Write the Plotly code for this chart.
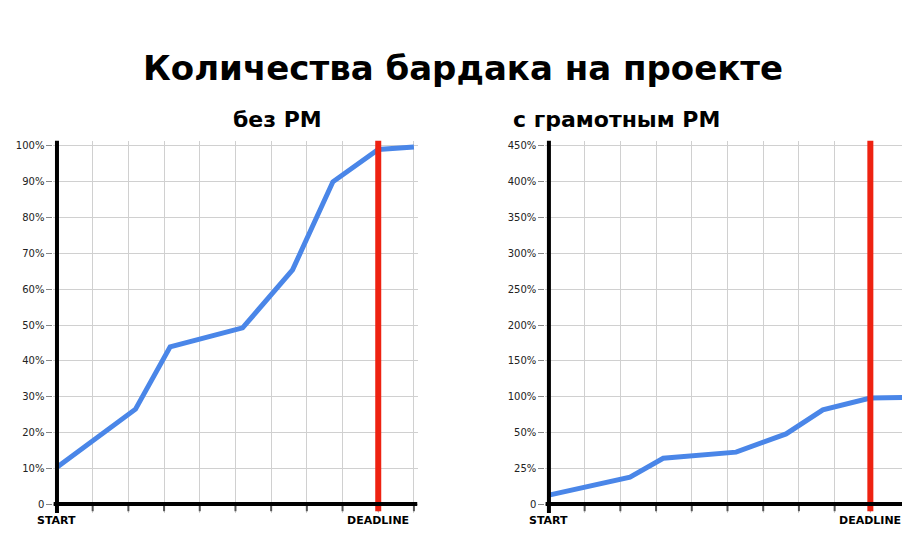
import plotly.graph_objects as go

# left: "без PM" (values in %)
left_x = [0, 2.2, 3.17, 5.2, 6.6, 7.73, 9, 10]
left_y = [10.3, 26.5, 43.9, 49.2, 65.4, 90, 99, 99.7]
left_ticks = ["0", "10%", "20%", "30%", "40%", "50%", "60%", "70%", "80%", "90%", "100%"]
# right: "с грамотным PM" (values in grid steps; labels uneven)
right_x = [0, 2.27, 3.2, 5.24, 6.64, 7.67, 9, 10]
right_y = [0.25, 0.75, 1.28, 1.45, 1.96, 2.63, 2.96, 2.98]
right_ticks = ["0", "25%", "50%", "100%", "150%", "200%", "250%", "300%", "350%", "400%", "450%"]
deadline = 9
n_cols = 10

fig = go.Figure()
fig.add_trace(go.Scatter(x=left_x, y=[v / 10 for v in left_y], mode="lines",
                         line=dict(color="#4a86e8", width=5), xaxis="x", yaxis="y"))
fig.add_trace(go.Scatter(x=right_x, y=right_y, mode="lines",
                         line=dict(color="#4a86e8", width=5), xaxis="x2", yaxis="y2"))

ydom = [0.0578, 0.7526]
common_x = dict(range=[-0.1, 10.1], showgrid=True, gridcolor="#d0d0d0", gridwidth=1, automargin=False,
                tickvals=list(range(n_cols + 1)), showticklabels=False, zeroline=False, fixedrange=True)
common_y = dict(range=[-0.25, 10.15], tickvals=list(range(11)), showgrid=True, gridcolor="#d0d0d0",
                ticks="outside", ticklen=6, tickcolor="#888", zeroline=False, automargin=False,
                tickfont=dict(family="Verdana, DejaVu Sans", size=10, color="#222"))
fig.update_layout(
    width=910, height=536, margin=dict(l=0, r=0, t=0, b=0, autoexpand=False),
    paper_bgcolor="white", plot_bgcolor="white", showlegend=False,
    xaxis=dict(domain=[0.0499, 0.450], **common_x),
    yaxis=dict(domain=ydom, ticktext=left_ticks, **common_y),
    xaxis2=dict(domain=[0.5905, 0.9908], anchor="y2", **common_x),
    yaxis2=dict(domain=ydom, anchor="x2", ticktext=right_ticks, **common_y),
)

shapes = []
for xr, yr in (("x", "y"), ("x2", "y2")):
    for i in range(n_cols + 1):
        shapes.append(dict(type="line", xref=xr, yref=yr, x0=i, x1=i, y0=0, y1=-0.2,
                           line=dict(color="#555", width=2)))
    shapes.append(dict(type="line", xref=xr, yref=yr, x0=deadline, x1=deadline, y0=-0.2, y1=10.15,
                       line=dict(color="#ee2211", width=6)))
    shapes.append(dict(type="line", xref=xr, yref=yr, x0=-0.1, x1=10.1, y0=0, y1=0,
                       line=dict(color="black", width=4)))
    shapes.append(dict(type="line", xref=xr, yref=yr, x0=0, x1=0, y0=-0.25, y1=10.15,
                       line=dict(color="black", width=4)))
fig.update_layout(shapes=shapes)

ann = [dict(text="<b>Количества бардака на проекте</b>", xref="paper", yref="paper", x=0.5, y=1 - 38 / 536,
            showarrow=False, font=dict(family="Verdana, DejaVu Sans", size=34, color="black")),
       dict(text="<b>без PM</b>", xref="paper", yref="paper", x=0.245, y=1 - 97 / 536,
            showarrow=False, font=dict(family="Verdana, DejaVu Sans", size=22, color="black")),
       dict(text="<b>с грамотным PM</b>", xref="paper", yref="paper", x=0.785, y=1 - 97 / 536,
            showarrow=False, font=dict(family="Verdana, DejaVu Sans", size=22, color="black"))]
for xr in ("x", "x2"):
    for xv, t in ((0, "START"), (deadline, "DEADLINE")):
        ann.append(dict(text=f"<b>{t}</b>", xref=xr, yref="paper", x=xv, y=1 - 521 / 536,
                        showarrow=False, font=dict(family="Verdana, DejaVu Sans", size=11, color="black")))
fig.update_layout(annotations=ann)

fig.write_html("out.html")
